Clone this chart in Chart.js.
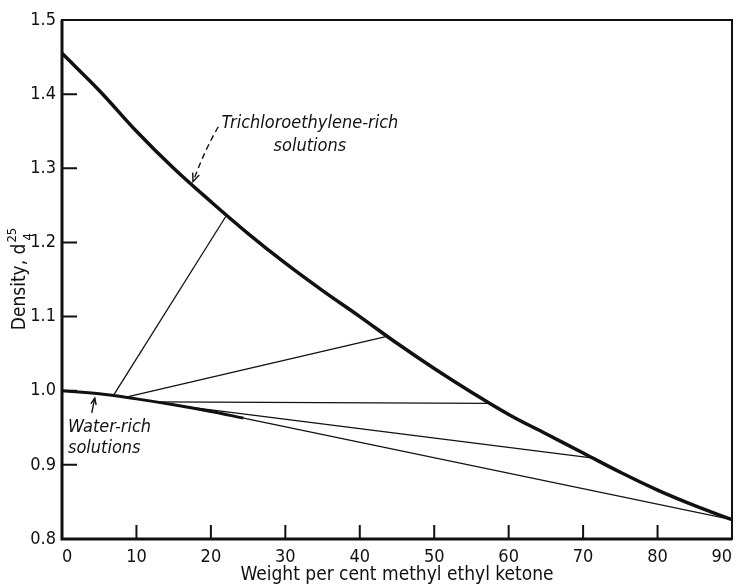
<!DOCTYPE html>
<html>
<head>
<meta charset="utf-8">
<script src="https://cdn.jsdelivr.net/npm/chart.js@4/dist/chart.umd.min.js"></script>
<style>
body { margin: 0; background: #fff; }
#wrap { width: 737px; height: 586px; position: relative; }
</style>
</head>
<body>
<div id="wrap"><canvas id="density-chart"></canvas></div>
<script>
// trichloroethylene-rich layer (upper curve)
var organicX = [0, 5, 10, 15, 20, 25, 30, 35, 40, 45, 50, 55, 60, 65, 70, 75, 80, 85, 90];
var organicY = [1.455, 1.405, 1.350, 1.300, 1.255, 1.212, 1.172, 1.135, 1.100, 1.064, 1.030, 0.998, 0.968, 0.942, 0.916, 0.890, 0.866, 0.845, 0.826];

// water-rich layer (lower curve)
var aqueousX = [0, 5, 10, 15, 20, 24.4];
var aqueousY = [1.000, 0.996, 0.989, 0.981, 0.972, 0.963];

// tie lines, water-rich end -> trichloroethylene-rich end
var tieLowX = [7, 8.9, 12.5, 15.5, 24.4];
var tieLowY = [0.995, 0.992, 0.985, 0.980, 0.963];
var tieHighX = [22, 43.5, 57.4, 71.4, 90];
var tieHighY = [1.235, 1.073, 0.983, 0.909, 0.826];

var xTicks = [0, 10, 20, 30, 40, 50, 60, 70, 80, 90];
var yTicks = [0.8, 0.9, 1.0, 1.1, 1.2, 1.3, 1.4, 1.5];

var xTitle = "Weight per cent methyl ethyl ketone";
var yTitle = "Density, d";
var yTitleSup = "25";
var yTitleSub = "4";
var notes = [["Trichloroethylene-rich", "solutions"], ["Water-rich", "solutions"]];

var ink = "#111";
var fontFamily = "'DejaVu Sans Condensed', 'Liberation Sans Narrow', 'DejaVu Sans', sans-serif";

function pairs(xs, ys) {
    return xs.map(function (x, i) { return { x: x, y: ys[i] }; });
}

var datasets = [];
tieLowX.forEach(function (x, i) {
    datasets.push({
        data: [{ x: x, y: tieLowY[i] }, { x: tieHighX[i], y: tieHighY[i] }],
        borderColor: ink,
        borderWidth: 1.3,
        showLine: true,
        pointRadius: 0
    });
});
datasets.push({
    data: pairs(organicX, organicY),
    borderColor: ink,
    borderWidth: 3.5,
    showLine: true,
    pointRadius: 0,
    tension: 0.4,
    clip: false
});
datasets.push({
    data: pairs(aqueousX, aqueousY),
    borderColor: ink,
    borderWidth: 3,
    showLine: true,
    pointRadius: 0,
    tension: 0.4,
    clip: false
});

function arrowHead(ctx, fx, fy, tx, ty, len) {
    var a = Math.atan2(ty - fy, tx - fx);
    ctx.beginPath();
    ctx.moveTo(tx - len * Math.cos(a - 0.4), ty - len * Math.sin(a - 0.4));
    ctx.lineTo(tx, ty);
    ctx.lineTo(tx - len * Math.cos(a + 0.4), ty - len * Math.sin(a + 0.4));
    ctx.stroke();
}

var paperPlugin = {
    id: "paper",
    afterDraw: function (chart) {
        var ctx = chart.ctx, area = chart.chartArea;
        var xs = chart.scales.x, ys = chart.scales.y;
        ctx.save();
        ctx.strokeStyle = ink;
        ctx.fillStyle = ink;

        // frame
        ctx.lineWidth = 2;
        ctx.strokeRect(area.left, area.top, area.right - area.left, area.bottom - area.top);
        ctx.lineWidth = 3;
        ctx.beginPath();
        ctx.moveTo(area.left, area.top);
        ctx.lineTo(area.left, area.bottom);
        ctx.lineTo(area.right, area.bottom);
        ctx.stroke();

        // inward ticks
        ctx.lineWidth = 2;
        ctx.beginPath();
        xs.ticks.forEach(function (t, i) {
            if (i === 0 || i === xs.ticks.length - 1) return;
            var px = xs.getPixelForValue(t.value);
            ctx.moveTo(px, area.bottom);
            ctx.lineTo(px, area.bottom - 14);
        });
        ys.ticks.forEach(function (t, i) {
            if (i === 0 || i === ys.ticks.length - 1) return;
            var py = ys.getPixelForValue(t.value);
            ctx.moveTo(area.left, py);
            ctx.lineTo(area.left + 15, py);
        });
        ctx.stroke();

        // y title with stacked super/subscript
        ctx.save();
        ctx.translate(20, (area.top + area.bottom) / 2);
        ctx.rotate(-Math.PI / 2);
        ctx.font = "19px " + fontFamily;
        var w = ctx.measureText(yTitle).width;
        ctx.font = "13px " + fontFamily;
        var ws = ctx.measureText(yTitleSup).width;
        var x0 = -(w + ws) / 2;
        ctx.textBaseline = "middle";
        ctx.textAlign = "left";
        ctx.font = "19px " + fontFamily;
        ctx.fillText(yTitle, x0, 0);
        ctx.font = "13px " + fontFamily;
        ctx.fillText(yTitleSup, x0 + w + 1, -7);
        ctx.fillText(yTitleSub, x0 + w + 3, 9);
        ctx.restore();

        // annotations
        ctx.font = "italic 18px " + fontFamily;
        ctx.textBaseline = "middle";
        ctx.textAlign = "center";
        var tx = xs.getPixelForValue(33.3), ty = ys.getPixelForValue(1.361);
        ctx.fillText(notes[0][0], tx, ty);
        ctx.fillText(notes[0][1], tx, ty + 23);
        ctx.textAlign = "left";
        var wx = xs.getPixelForValue(0.8), wy = ys.getPixelForValue(0.950);
        ctx.fillText(notes[1][0], wx, wy);
        ctx.fillText(notes[1][1], wx, wy + 21);

        // dashed arrow to upper curve
        var sx = xs.getPixelForValue(21.0), sy = ys.getPixelForValue(1.356);
        var ex = xs.getPixelForValue(17.6), ey = ys.getPixelForValue(1.282);
        var cx = sx - 13, cy = sy + 22;
        ctx.lineWidth = 1.4;
        ctx.setLineDash([6, 4]);
        ctx.beginPath();
        ctx.moveTo(sx, sy);
        ctx.quadraticCurveTo(cx, cy, ex, ey);
        ctx.stroke();
        ctx.setLineDash([]);
        arrowHead(ctx, cx, cy, ex, ey, 9);

        // solid arrow to lower curve
        var ax = xs.getPixelForValue(4.0), ay = ys.getPixelForValue(0.970);
        var bx = xs.getPixelForValue(4.4), by = ys.getPixelForValue(0.990);
        ctx.lineWidth = 1.4;
        ctx.beginPath();
        ctx.moveTo(ax, ay);
        ctx.lineTo(bx, by);
        ctx.stroke();
        arrowHead(ctx, ax, ay, bx, by, 7);

        ctx.restore();
    }
};

var densityChart = new Chart(document.getElementById("density-chart").getContext("2d"), {
    type: "scatter",
    data: { datasets: datasets },
    options: {
        responsive: true,
        maintainAspectRatio: false,
        animation: false,
        layout: { padding: { top: 20, right: 5, left: 0, bottom: 0 } },
        plugins: { legend: { display: false }, tooltip: { enabled: false } },
        scales: {
            x: {
                type: "linear",
                min: 0,
                max: 90,
                afterBuildTicks: function (scale) {
                    scale.ticks = xTicks.map(function (v) { return { value: v }; });
                },
                afterFit: function (scale) {
                    scale.height = 47;
                    scale.paddingLeft = 0;
                    scale.paddingRight = 0;
                },
                grid: { display: false, drawTicks: false },
                border: { display: false },
                ticks: {
                    color: ink,
                    padding: 8,
                    maxRotation: 0,
                    align: "inner",
                    font: { family: fontFamily, size: 18 },
                    callback: function (v) { return String(v); }
                },
                title: {
                    display: true,
                    text: xTitle,
                    color: ink,
                    padding: { top: 0, bottom: 0 },
                    font: { family: fontFamily, size: 19 }
                }
            },
            y: {
                type: "linear",
                min: 0.8,
                max: 1.5,
                afterBuildTicks: function (scale) {
                    scale.ticks = yTicks.map(function (v) { return { value: v }; });
                },
                afterFit: function (scale) {
                    scale.width = 62;
                    scale.paddingTop = 0;
                    scale.paddingBottom = 0;
                },
                grid: { display: false, drawTicks: false },
                border: { display: false },
                ticks: {
                    color: ink,
                    padding: 6,
                    font: { family: fontFamily, size: 18 },
                    callback: function (v) { return Number(v).toFixed(1); }
                }
            }
        }
    },
    plugins: [paperPlugin]
});
</script>
</body>
</html>
